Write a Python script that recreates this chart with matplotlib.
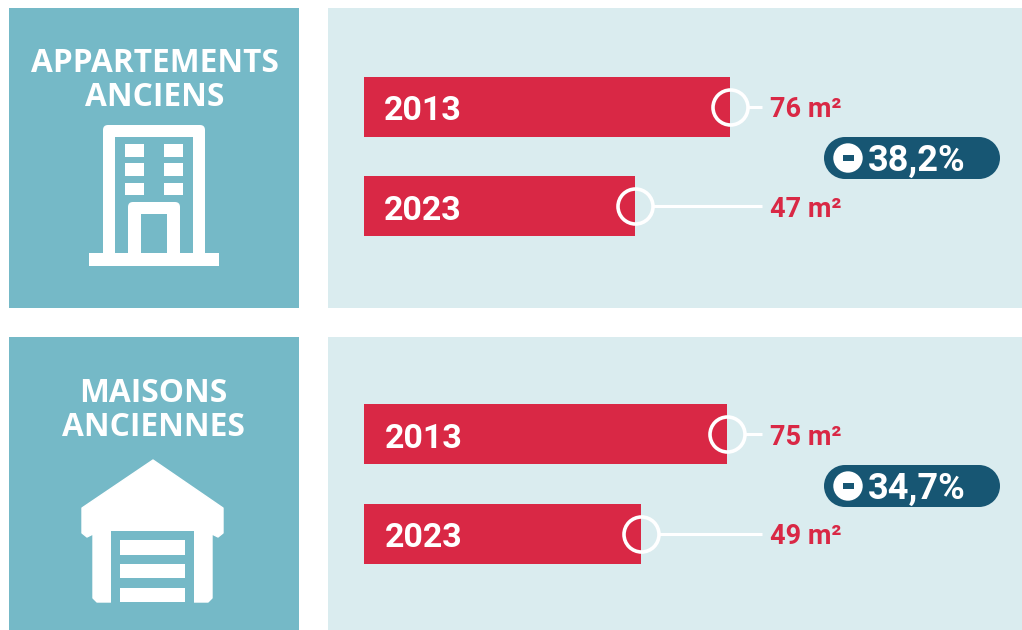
import matplotlib
matplotlib.use("Agg")
import matplotlib.pyplot as plt
from matplotlib.patches import Rectangle, Polygon, FancyBboxPatch, Circle

# ---- data ----
years = ["2013", "2023"]
apartments = [76, 47]
houses = [75, 49]
value_labels_apt = ["76 m²", "47 m²"]
value_labels_house = ["75 m²", "49 m²"]
change_apt = "38,2%"
change_house = "34,7%"
title_apt = ["APPARTEMENTS", "ANCIENS"]
title_house = ["MAISONS", "ANCIENNES"]

TEAL, PALE, RED, NAVY = "#75B9C7", "#DAECEF", "#D92845", "#175673"
W, H = 1022, 630
PX_PER_UNIT = 3.276      # the bars do not start at zero in the source
AXIS_START = -35.7

fig = plt.figure(figsize=(W / 100, H / 100), dpi=100, facecolor="white")
bg = fig.add_axes([0, 0, 1, 1])
bg.set_xlim(0, W)
bg.set_ylim(H, 0)
bg.axis("off")


def rect(x0, y0, x1, y1, color, z=1):
    bg.add_patch(Rectangle((x0, y0), x1 - x0, y1 - y0, fc=color, ec="none", zorder=z))


# panels
for top, bottom in ((8, 308), (337, 630)):
    rect(9, top, 299, bottom, TEAL)
    rect(328, top, 1022, bottom, PALE)

title_style = dict(family="Open Sans", weight="bold", color="white", fontsize=22.8,
                   ha="center", va="center_baseline")
bg.text(155, 60, title_apt[0], **title_style)
bg.text(155, 94, title_apt[1], **title_style)
bg.text(153, 389, title_house[0], **title_style)
bg.text(153, 423, title_house[1], **title_style)


def round_rect(x0, y0, x1, y1, color, r, z=2):
    bg.add_patch(FancyBboxPatch((x0 + r, y0 + r), x1 - x0 - 2 * r, y1 - y0 - 2 * r,
                                boxstyle=f"round,pad={r},rounding_size={r}",
                                fc=color, ec="none", zorder=z))


# building icon
round_rect(103, 125, 205, 262, "white", 5)
rect(115, 137, 193, 253, TEAL, 3)
rect(89, 253, 219, 266, "white", 4)
for wy0, wy1 in ((144, 157), (163, 176), (183, 195)):
    rect(125, wy0, 144, wy1, "white", 4)
    rect(164, wy0, 183, wy1, "white", 4)
round_rect(128, 202, 180, 258, "white", 5, 4)
rect(141, 214, 167, 253, TEAL, 5)

# garage icon
bg.add_patch(Polygon([(153, 460), (223, 508), (223, 533), (218, 537), (212, 534),
                      (212, 598), (208, 602), (97, 602), (93, 598), (93, 534),
                      (87, 537), (82, 533), (82, 508)],
                     closed=True, fc="white", ec="white", lw=1, joinstyle="round", zorder=2))
rect(111, 531, 194, 603.5, TEAL, 3)
for sy0, sy1 in ((540, 555), (564, 578), (588, 602)):
    rect(120, sy0, 185, sy1, "white", 4)


def bar_panel(top, values, labels, text_x):
    ax = fig.add_axes([364 / W, 1 - (top + 199) / H, 636 / W, 199 / H])
    ax.patch.set_alpha(0)
    ax.axis("off")
    ax.set_xlim(AXIS_START, AXIS_START + 636 / PX_PER_UNIT)
    ax.set_ylim(1.5, -0.5)
    ax.barh(range(2), [v - AXIS_START for v in values], left=AXIS_START,
            height=0.6, color=RED, zorder=2)
    line_end = AXIS_START + (761.5 - 364) / PX_PER_UNIT
    label_x = AXIS_START + (770 - 364) / PX_PER_UNIT
    year_x = AXIS_START + (text_x - 364) / PX_PER_UNIT
    for i, (v, lab, yr) in enumerate(zip(values, labels, years)):
        ax.plot([v + 18 / PX_PER_UNIT, line_end], [i, i], color="white", lw=2.2,
                solid_capstyle="butt", zorder=3, clip_on=False)
        ax.plot([v], [i], "o", ms=25.2, mfc="none", mec="white", mew=2.6, zorder=4, clip_on=False)
        ax.text(year_x, i + 0.045, yr, family="Roboto", weight="bold", color="white",
                fontsize=24.5, ha="left", va="center", zorder=5)
        ax.text(label_x, i + 0.03, lab, family="Roboto", weight="bold", color=RED,
                fontsize=19.5, ha="left", va="center", zorder=5)


bar_panel(57, apartments, value_labels_apt, 384)
bar_panel(384.5, houses, value_labels_house, 385)


def pill(yc, text):
    r = 21
    rect(824 + r, yc - r, 1000 - r, yc + r, NAVY, 6)
    bg.add_patch(Circle((824 + r, yc), r, fc=NAVY, ec="none", zorder=6))
    bg.add_patch(Circle((1000 - r, yc), r, fc=NAVY, ec="none", zorder=6))
    bg.add_patch(Circle((848, yc), 14.7, fc="white", ec="none", zorder=7))
    rect(842.5, yc - 2.7, 853.5, yc + 2.7, NAVY, 8)
    bg.text(868, yc + 2.5, text, family="Roboto", weight="bold", color="white",
            fontsize=26, ha="left", va="center", zorder=8)


pill(158, change_apt)
pill(486, change_house)

fig.savefig("out.png", dpi=100, facecolor="white")
